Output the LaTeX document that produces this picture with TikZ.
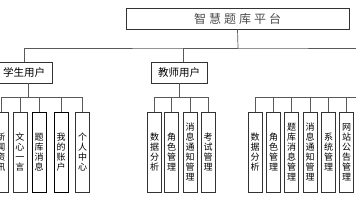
\documentclass[tikz,border=0pt]{standalone}
\usepackage{fontspec}
\newfontfamily\cjk{Noto Sans CJK SC}
\tikzset{
  box/.style={draw=black!80, line width=0.7pt, fill=white, inner sep=0pt, font=\cjk},
  leaf/.style={box, minimum width=14, minimum height=80, align=center, font=\cjk\fontsize{9}{10}\selectfont},
  usr/.style={box, minimum width=56, minimum height=21, font=\cjk\fontsize{10.5}{12}\selectfont},
  wire/.style={draw=black!65, line width=0.7pt},
}
\begin{document}
\begin{tikzpicture}[x=1pt,y=-1pt]
\useasboundingbox (0,0) rectangle (356,200);
\clip (0,0) rectangle (356,200);
% root
\node[box, minimum width=223, minimum height=21, text=black!70, font=\cjk\fontsize{12}{14}\selectfont] (root) at (237.5,18.5)
  {智\hspace{3pt}慧\hspace{3pt}题\hspace{3pt}库\hspace{3pt}平\hspace{3pt}台};
% user nodes
\node[usr] (stu) at (24,72.5) {学生用户};
\node[usr] (tea) at (179,72.5) {教师用户};
\coordinate (b0) at (238,48);
\coordinate (b1) at (380,48);
\draw[wire] (root.south) -- (b0);
\draw[wire] ([xshift=4pt]tea.north) |- (b0);
\draw[wire] (stu.north) |- (b0) -- (b1);
% student leaves
\node[leaf] (s1) at (1,152) {新\\闻\\资\\讯};
\node[leaf] (s2) at (20,152) {文\\心\\一\\言};
\node[leaf, draw=black] (s3) at (39,152) {题\\库\\消\\息};
\node[leaf, draw=black] (s4) at (61,152) {我\\的\\账\\户};
\node[leaf] (s5) at (82.5,152) {个\\人\\中\\心};
\draw[wire] ([xshift=4pt]stu.south) -- ++(0,14) coordinate (sb);
\foreach \n in {s1,s2,s3,s4,s5} \draw[wire] (\n.north) |- (sb);
% teacher leaves
\node[leaf] (t1) at (154.5,152) {数\\据\\分\\析};
\node[leaf] (t2) at (171.5,152) {角\\色\\管\\理};
\node[leaf] (t3) at (190,152) {消\\息\\通\\知\\管\\理};
\node[leaf] (t4) at (208,152) {考\\试\\管\\理};
\draw[wire] (tea.south) -- ++(0,14) coordinate (tb);
\foreach \n in {t1,t2,t3,t4} \draw[wire] (\n.north) |- (tb);
% third group leaves
\coordinate (ab) at (380,97);
\node[leaf] (a1) at (255,152) {数\\据\\分\\析};
\node[leaf] (a2) at (273.5,152) {角\\色\\管\\理};
\node[leaf] (a3) at (291.5,152) {题\\库\\消\\息\\管\\理};
\node[leaf] (a4) at (310,152) {消\\息\\通\\知\\管\\理};
\node[leaf] (a5) at (328.5,152) {系\\统\\管\\理};
\node[leaf] (a6) at (346.5,152) {网\\站\\公\\告\\管\\理};
\foreach \n in {a1,a2,a3,a4,a5,a6} \draw[wire] (\n.north) |- (ab);
\end{tikzpicture}
\end{document}
